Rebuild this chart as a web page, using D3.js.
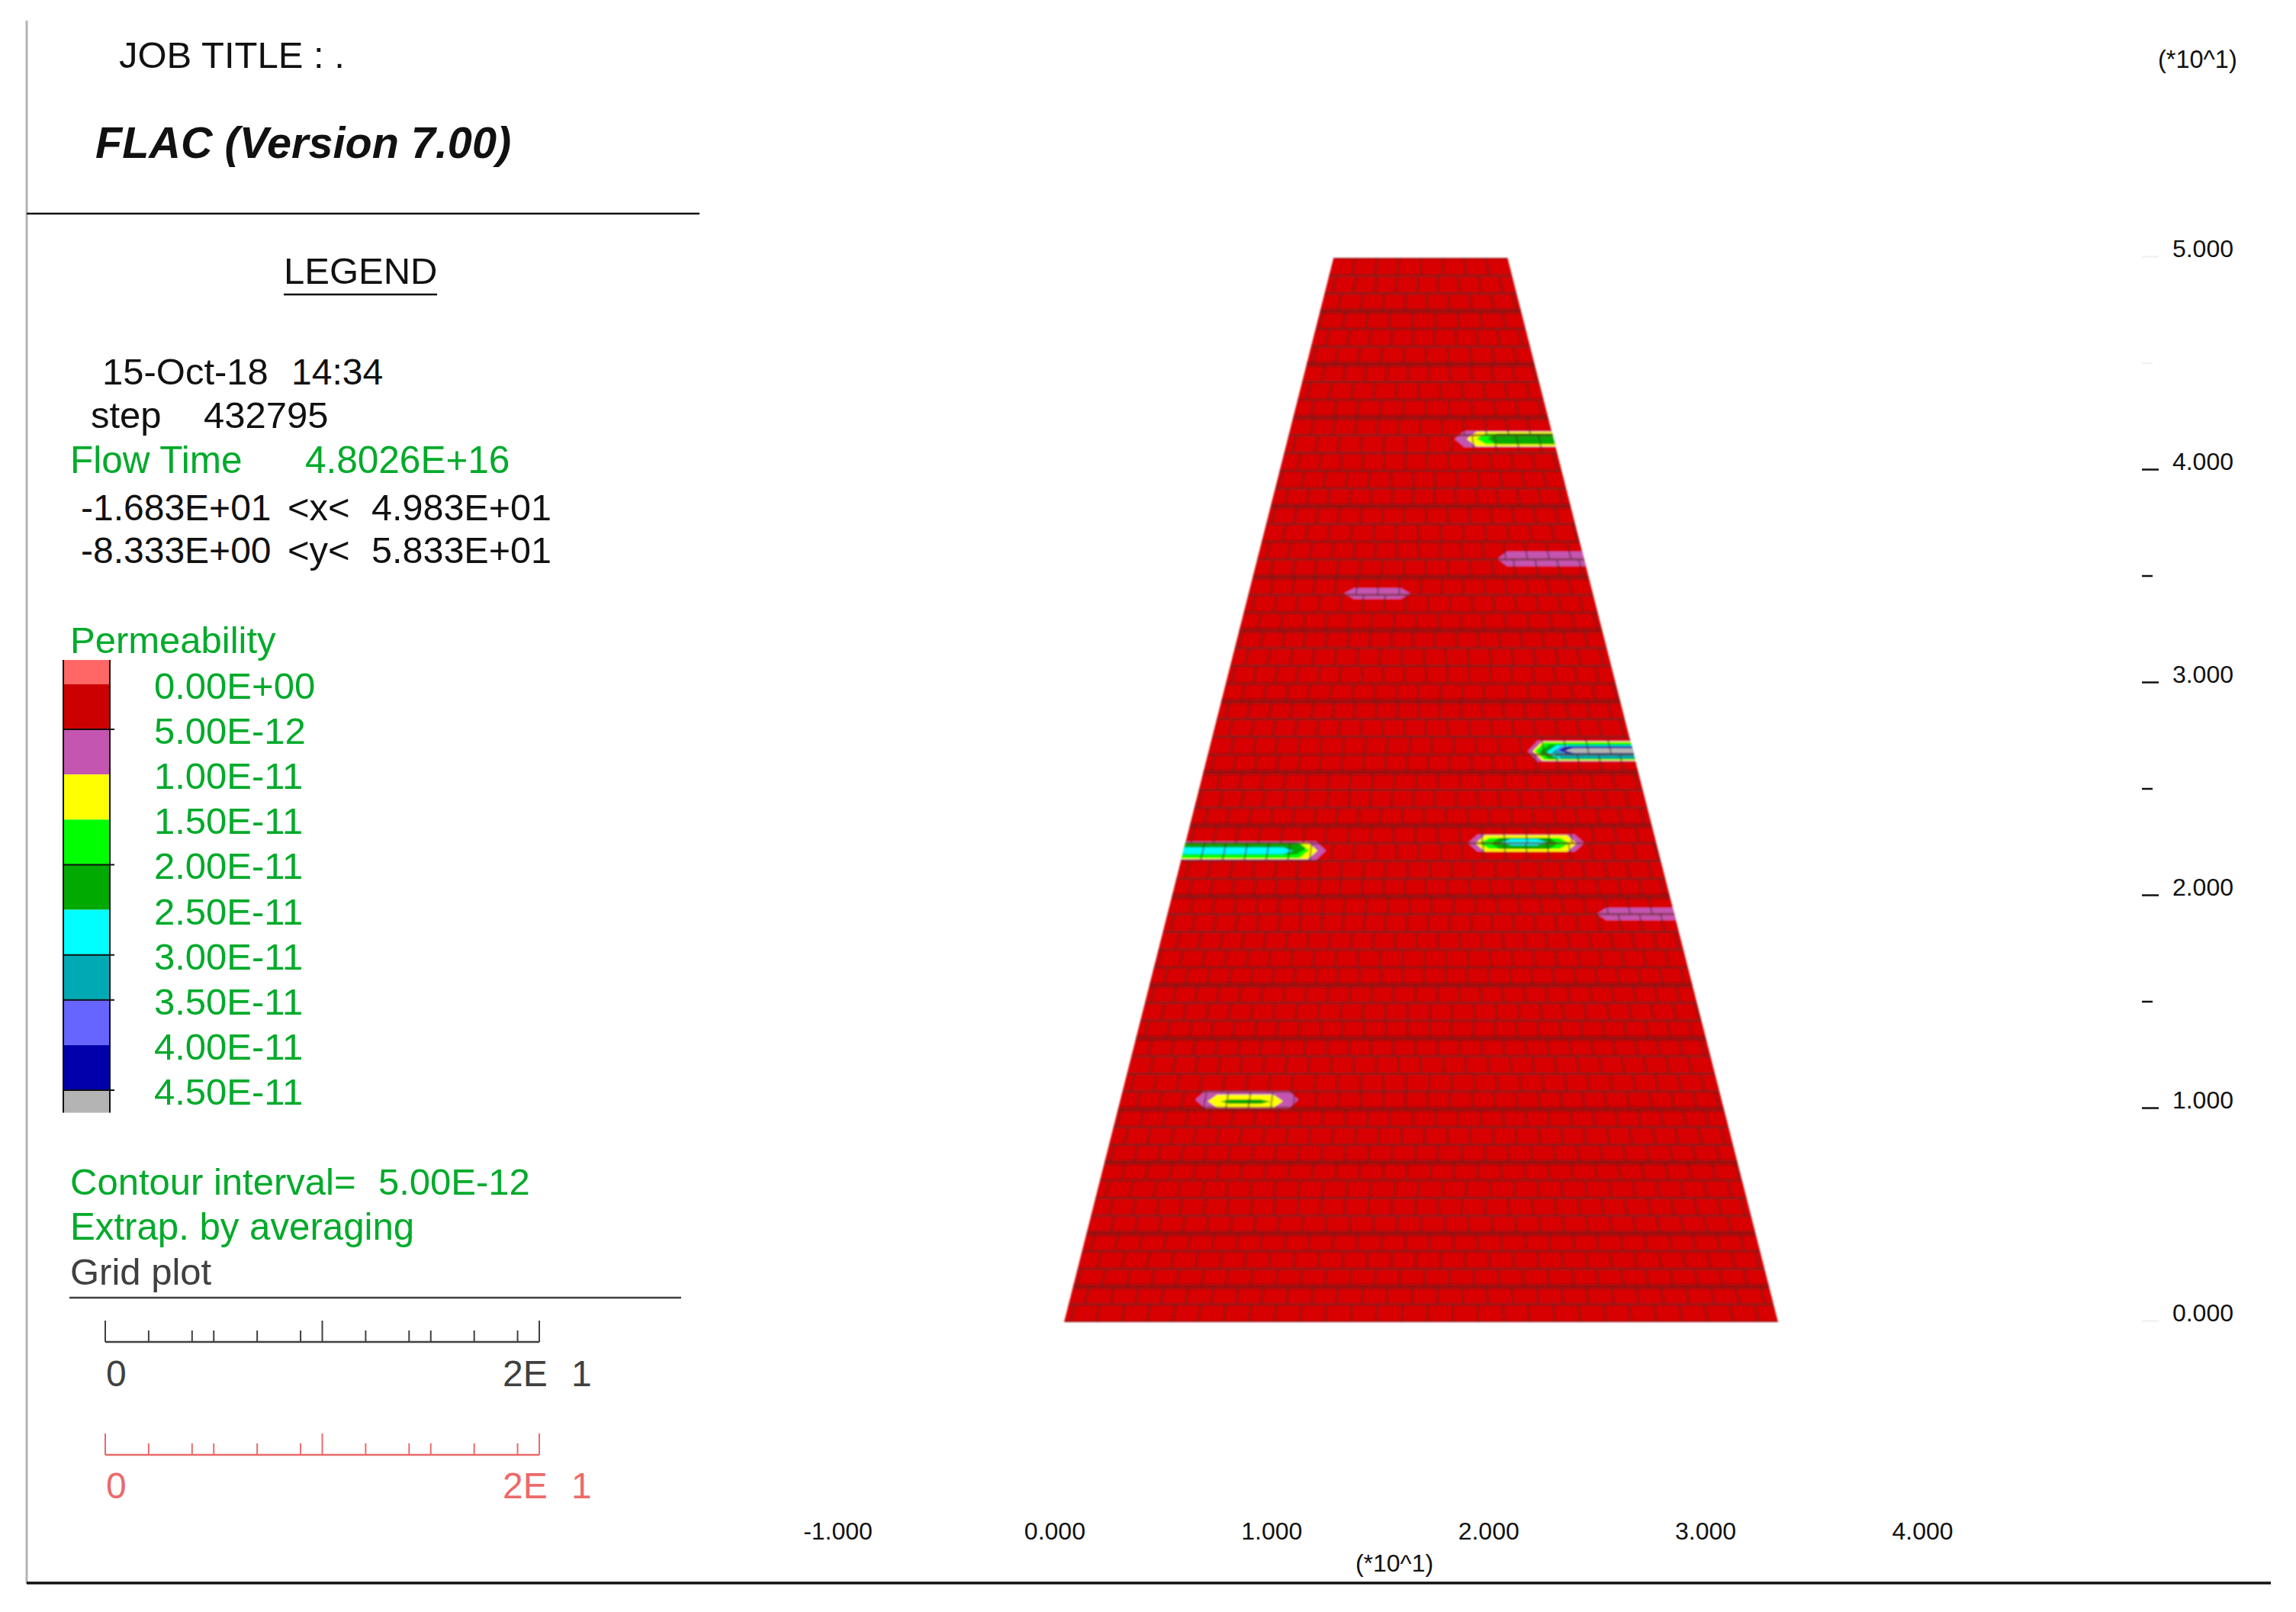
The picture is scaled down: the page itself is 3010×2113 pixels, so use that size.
<!DOCTYPE html>
<html>
<head>
<meta charset="utf-8">
<title>FLAC permeability plot</title>
<script src="https://cdnjs.cloudflare.com/ajax/libs/d3/7.8.5/d3.min.js"></script>
<style>
	body { margin: 0; background: #fff; }
	text { font-family: "Liberation Sans", Arial, sans-serif; white-space: pre; }
	.domain { display: none; }
</style>
</head>
<body>
<div class="main"></div>
<script>
//Canvas config
var width = 3010;
var height = 2113;

//colour legend
var legendValues = [0, 5e-12, 1e-11, 1.5e-11, 2e-11, 2.5e-11, 3e-11, 3.5e-11, 4e-11, 4.5e-11];
var legendLabels = ["0.00E+00", "5.00E-12", "1.00E-11", "1.50E-11", "2.00E-11", "2.50E-11", "3.00E-11", "3.50E-11", "4.00E-11", "4.50E-11"];
var legendEdges = [-2.7e-12, 0, 5e-12, 1e-11, 1.5e-11, 2e-11, 2.5e-11, 3e-11, 3.5e-11, 4e-11, 4.5e-11, 4.75e-11];
var legendColors = ["#ff6666", "#cc0000", "#c455b0", "#ffff00", "#00ff00", "#00aa00", "#00ffff", "#00aab4", "#6666ff", "#0000aa", "#b4b4b4"];
var legendTickValues = [5e-12, 2e-11, 3e-11, 3.5e-11, 4.5e-11];

//axes, in model units
var xTickValues = [-10, 0, 10, 20, 30, 40];
var xTickLabels = ["-1.000", "0.000", "1.000", "2.000", "3.000", "4.000"];
var yTickValues = [0, 10, 15, 20, 25, 30, 35, 40, 45, 50];
var yTickLabels = ["0.000", "1.000", "", "2.000", "", "3.000", "", "4.000", "", "5.000"];
var yFaintTicks = [0, 45, 50];

//scale bar ticks (0 to 20)
var scaleBarTicks = [0, 2, 4, 5, 7, 9, 10, 12, 14, 15, 17, 19, 20];
var scaleBarMajor = [0, 10, 20];

//dam outline and mesh: columns per row, top row first
var damOutline = [[0, 0], [12.58, 50], [20.7, 50], [33.33, 0]];
var meshRowCount = 60;
var meshColumns = [8, 9, 9, 9, 10, 10, 11, 11, 11, 12, 12, 13, 13, 14, 14, 14, 15, 15, 16, 16,
	16, 17, 17, 18, 18, 19, 19, 19, 20, 20, 21, 21, 21, 22, 22, 23, 23, 24, 24, 24,
	25, 25, 25, 26, 26, 26, 26, 27, 27, 27, 27, 27, 27, 28, 28, 28, 28, 28, 28, 28];
//brick offset of each row's columns, as a part of one cell, repeats down the dam
var meshStagger = [0, 0.35, -0.2, 0.15, -0.35, 0.25, -0.1, 0.4, -0.25];
//rows whose upper line prints heavier
var meshHeavyRows = [3, 6, 9, 14, 18, 21, 25, 29, 32, 36, 41, 44, 48, 51, 55, 58];

//permeable patches, one list of layers each: [x left, x right, y top, y bottom, colour band]
var patchUpperGreen = [[18.23, 30, 41.86, 41.11, 2], [18.80, 30, 41.83, 41.15, 3], [19.23, 30, 41.76, 41.25, 4], [19.76, 30, 41.76, 41.25, 5]];
var patchUpperPurple = [[20.23, 30, 36.20, 35.52, 2]];
var patchSmallPurple = [[13.07, 16.17, 34.48, 33.98, 2]];
var patchTeal = [[21.65, 30, 27.31, 26.34, 2], [21.87, 30, 27.28, 26.38, 3], [21.97, 30, 27.24, 26.42, 4], [22.19, 30, 27.13, 26.45, 5],
	[22.54, 30, 27.10, 26.49, 6], [22.76, 30, 27.06, 26.49, 7], [22.97, 30, 27.06, 26.70, 8], [23.11, 30, 27.06, 26.70, 9], [23.33, 30, 26.97, 26.74, 10]];
var patchCentre = [[18.85, 24.29, 22.90, 22.11, 2], [19.2, 23.93, 22.88, 22.11, 3], [19.4, 23.58, 22.76, 22.22, 4], [19.9, 23.08, 22.76, 22.22, 5], [20.4, 22.54, 22.69, 22.40, 6]];
var patchLeft = [[0, 12.22, 22.58, 21.72, 2], [0, 11.83, 22.54, 21.76, 3], [0, 11.43, 22.54, 21.79, 4], [0, 11.29, 22.54, 21.97, 5], [0, 10.68, 22.29, 21.99, 6]];
var patchLowerPurple = [[24.86, 30, 19.46, 18.89, 2]];
var patchBottom = [[6.13, 10.93, 10.86, 10.04, 2], [6.70, 10.22, 10.68, 10.07, 3], [7.30, 9.62, 10.47, 10.25, 5]];
var patches = [patchUpperGreen, patchUpperPurple, patchSmallPurple, patchTeal, patchCentre, patchLeft, patchLowerPurple, patchBottom];

var black = "#111";
var green = "#00aa2a";
var gray = "#404040";
var pink = "#ec6a6a";

var svg = d3.select(".main")
	.append("svg")
	.attr("width", width)
	.attr("height", height)
	.style("display", "block");

var defs = svg.append("defs");
defs.append("filter")
	.attr("id", "soft")
	.append("feGaussianBlur")
	.attr("stdDeviation", 1.1);

var xScale = d3.scaleLinear().domain([0, 33.33]).range([1395, 2331]);
var yScale = d3.scaleLinear().domain([0, 50]).range([1733, 338]);
//the printed axes sit slightly off the mesh
var xAxisScale = d3.scaleLinear().domain([-10, 40]).range([1098, 2520]);
var yAxisScale = d3.scaleLinear().domain([0, 50]).range([1731, 336]);
var legendScale = d3.scaleLinear().domain([0, 4.5e-11]).range([897, 1429]);
var legendTextY = d3.scaleLinear().domain([0, 4.5e-11]).range([916, 1448]);
var barScale = d3.scaleLinear().domain([0, 20]).range([138, 707]);

var outlineLine = d3.line()
	.x(function(d) { return xScale(d[0]); })
	.y(function(d) { return yScale(d[1]); });

function addText(str, x, y, size, color) {
	return svg.append("text")
		.attr("x", x)
		.attr("y", y)
		.attr("font-size", size)
		.attr("fill", color)
		.text(str);
}

function addLine(x1, y1, x2, y2, color, w) {
	return svg.append("line")
		.attr("x1", x1).attr("y1", y1)
		.attr("x2", x2).attr("y2", y2)
		.attr("stroke", color)
		.attr("stroke-width", w);
}

//frame
addLine(35, 27, 35, 2076, "#b4b4b4", 3);
addLine(35, 2075, 2977, 2075, black, 3.5);
addLine(35, 280, 917, 280, black, 2.5);

//header
addText("JOB TITLE : .", 156, 89, 49, black);
addText("FLAC (Version 7.00)", 125, 207, 57.6, black)
	.attr("font-weight", "bold")
	.attr("font-style", "italic");
addText("LEGEND", 372, 372, 49, black);
addLine(372, 386, 573, 386, black, 2.5);

addText("15-Oct-18", 134, 504, 49, black);
addText("14:34", 382, 504, 48, black);
addText("step", 119, 561, 49, black);
addText("432795", 267, 561, 49, black);
addText("Flow Time", 92, 620, 49.5, green);
addText("4.8026E+16", 400, 620, 49.5, green);
addText("-1.683E+01", 106, 682, 48, black);
addText("<x<", 377, 682, 49, black);
addText("4.983E+01", 487, 682, 48.5, black);
addText("-8.333E+00", 106, 738, 48, black);
addText("<y<", 377, 738, 49, black);
addText("5.833E+01", 487, 738, 48.5, black);

//colour bar
addText("Permeability", 92, 856, 49, green);
var colorBar = svg.append("g").attr("class", "color-bar");
colorBar.selectAll("rect")
	.data(legendColors)
	.enter()
	.append("rect")
	.attr("x", 83)
	.attr("width", 61)
	.attr("y", function(d, i) { return legendScale(legendEdges[i]); })
	.attr("height", function(d, i) { return legendScale(legendEdges[i + 1]) - legendScale(legendEdges[i]); })
	.attr("fill", function(d) { return d; });
addLine(83, legendScale(legendEdges[0]), 83, legendScale(legendEdges[11]), black, 2);
addLine(144, legendScale(legendEdges[0]), 144, legendScale(legendEdges[11]), black, 2);
colorBar.selectAll("line.level")
	.data(legendTickValues)
	.enter()
	.append("line")
	.attr("class", "level")
	.attr("x1", 83)
	.attr("x2", 150)
	.attr("y1", legendScale)
	.attr("y2", legendScale)
	.attr("stroke", black)
	.attr("stroke-width", 2);
svg.append("g")
	.selectAll("text")
	.data(legendValues)
	.enter()
	.append("text")
	.attr("x", 202)
	.attr("y", function(d) { return legendTextY(d); })
	.attr("font-size", 49)
	.attr("fill", green)
	.text(function(d, i) { return legendLabels[i]; });

addText("Contour interval=", 92, 1566, 49, green);
addText("5.00E-12", 496, 1566, 49, green);
addText("Extrap. by averaging", 92, 1625, 49.2, green);
addText("Grid plot", 92, 1684, 49, gray);
addLine(91, 1701, 893, 1701, gray, 2.5);

//the two scale bars
function drawScaleBar(y, textY, color) {
	addLine(barScale(0), y, barScale(20), y, color, 2.5);
	svg.append("g")
		.selectAll("line")
		.data(scaleBarTicks)
		.enter()
		.append("line")
		.attr("x1", barScale)
		.attr("x2", barScale)
		.attr("y1", y)
		.attr("y2", function(d) { return scaleBarMajor.indexOf(d) >= 0 ? y - 28 : y - 15; })
		.attr("stroke", color)
		.attr("stroke-width", 2);
	addText("0", 139, textY, 48, color);
	addText("2E", 659, textY, 48, color);
	addText("1", 749, textY, 48, color);
}
drawScaleBar(1759, 1817, gray);
drawScaleBar(1907, 1964, pink);

//dam body
var plot = svg.append("g").attr("class", "plot").attr("filter", "url(#soft)");
defs.append("clipPath")
	.attr("id", "dam-clip")
	.append("path")
	.attr("d", outlineLine(damOutline) + "Z");

plot.append("path")
	.attr("d", outlineLine(damOutline) + "Z")
	.attr("fill", "#d80000");

//permeable patches as tapered layers, clipped to the slope
var patchLayer = plot.append("g").attr("clip-path", "url(#dam-clip)");
function layerPoints(d) {
	var taper = 0.45;
	var mid = (d[2] + d[3]) / 2;
	return [[d[0] + taper, d[2]], [d[1] - taper, d[2]], [d[1], mid], [d[1] - taper, d[3]], [d[0] + taper, d[3]], [d[0], mid]];
}
patches.forEach(function(layers) {
	patchLayer.append("g")
		.selectAll("path")
		.data(layers)
		.enter()
		.append("path")
		.attr("d", function(d) { return outlineLine(layerPoints(d)) + "Z"; })
		.attr("fill", function(d) { return legendColors[d[4]]; });
});

//mesh lines over everything, each row has its own column count
function edgeX(y, side) {
	var t = y / 50;
	return side == 0 ? damOutline[1][0] * t : damOutline[3][0] + (damOutline[2][0] - damOutline[3][0]) * t;
}
var rowHeight = 50 / meshRowCount;
var meshGroup = plot.append("g").attr("class", "mesh").attr("clip-path", "url(#dam-clip)");

var rowLines = d3.range(meshRowCount + 1).map(function(r) {
	var y = 50 - r * rowHeight;
	return { row: r, points: [[edgeX(y, 0), y], [edgeX(y, 1), y]] };
});
meshGroup.selectAll("path.row")
	.data(rowLines)
	.enter()
	.append("path")
	.attr("class", "row")
	.attr("d", function(d) { return outlineLine(d.points); })
	.attr("fill", "none")
	.attr("stroke", function(d) { return meshHeavyRows.indexOf(d.row) >= 0 ? "#701818" : "#6b2a2a"; })
	.attr("stroke-opacity", function(d) { return meshHeavyRows.indexOf(d.row) >= 0 ? 0.5 : 0.6; })
	.attr("stroke-width", function(d) { return meshHeavyRows.indexOf(d.row) >= 0 ? 7 : 3; });

var columnLines = [];
meshColumns.forEach(function(n, r) {
	var yTop = 50 - r * rowHeight;
	var yBot = yTop - rowHeight;
	var shift = meshStagger[r % meshStagger.length];
	d3.range(0, n + 1).forEach(function(i) {
		var f = (i + shift) / n;
		if (f <= 0 || f >= 1) return;
		columnLines.push([
			[edgeX(yTop, 0) + (edgeX(yTop, 1) - edgeX(yTop, 0)) * f, yTop],
			[edgeX(yBot, 0) + (edgeX(yBot, 1) - edgeX(yBot, 0)) * f, yBot]
		]);
	});
});
meshGroup.selectAll("path.column")
	.data(columnLines)
	.enter()
	.append("path")
	.attr("class", "column")
	.attr("d", outlineLine)
	.attr("fill", "none")
	.attr("stroke", "#402a2a")
	.attr("stroke-opacity", 0.42)
	.attr("stroke-width", 2.6);

//y axis on the right
var yAxis = d3.axisRight(yAxisScale)
	.tickValues(yTickValues)
	.tickSize(22)
	.tickFormat(function(d, i) { return yTickLabels[i]; });
var yG = svg.append("g")
	.attr("class", "y-axis")
	.attr("transform", "translate(2808,0)")
	.call(yAxis);
yG.selectAll(".tick line")
	.attr("x2", function(d) { return d % 10 == 0 ? 22 : 14; })
	.attr("stroke", function(d) { return yFaintTicks.indexOf(d) >= 0 ? "#f2f2f2" : black; })
	.attr("stroke-width", 2.5);
yG.selectAll(".tick text")
	.attr("x", 120)
	.attr("dy", 0)
	.attr("y", 0)
	.attr("text-anchor", "end")
	.attr("font-family", "Liberation Sans")
	.attr("font-size", 32)
	.attr("fill", black);
addText("(*10^1)", 2829, 89, 32.5, black);

//x axis, labels only
var xAxis = d3.axisBottom(xAxisScale)
	.tickValues(xTickValues)
	.tickSize(0)
	.tickFormat(function(d, i) { return xTickLabels[i]; });
var xG = svg.append("g")
	.attr("class", "x-axis")
	.attr("transform", "translate(0,2018)")
	.call(xAxis);
xG.selectAll(".tick text")
	.attr("y", 0)
	.attr("dy", 0)
	.attr("font-family", "Liberation Sans")
	.attr("font-size", 32)
	.attr("fill", black);
addText("(*10^1)", 1828, 2060, 32, black).attr("text-anchor", "middle");
</script>
</body>
</html>
